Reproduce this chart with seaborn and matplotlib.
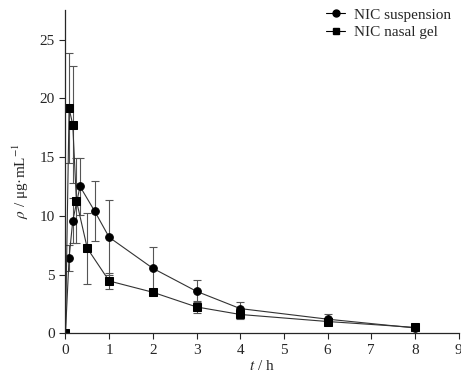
import numpy as np
import pandas as pd
import matplotlib
matplotlib.use("Agg")
import matplotlib.pyplot as plt
import seaborn as sns

# time points (h)
t_susp = [0, 0.083, 0.167, 0.333, 0.667, 1, 2, 3, 4, 6, 8]
c_susp = [0, 6.43, 9.58, 12.5, 10.4, 8.17, 5.53, 3.57, 2.1, 1.2, 0.45]
sd_susp = [0, 1.1, 1.9, 2.4, 2.55, 3.2, 1.85, 0.95, 0.6, 0.4, 0.15]

t_gel = [0, 0.083, 0.167, 0.25, 0.5, 1, 2, 3, 4, 6, 8]
c_gel = [0, 19.15, 17.75, 11.3, 7.23, 4.45, 3.49, 2.24, 1.6, 1.0, 0.5]
sd_gel = [0, 4.7, 5.0, 3.6, 3.0, 0.65, 0.2, 0.5, 0.4, 0.3, 0.1]

labels = ["NIC suspension", "NIC nasal gel"]

sns.set_style("ticks")
plt.rcParams['font.family'] = ['Liberation Serif', 'DejaVu Serif']
plt.rcParams['mathtext.fontset'] = 'stix'

df = pd.concat([
  pd.DataFrame({'t': t_susp, 'c': c_susp, 'sd': sd_susp, 'group': labels[0]}),
  pd.DataFrame({'t': t_gel, 'c': c_gel, 'sd': sd_gel, 'group': labels[1]}),
])

fig = plt.figure(figsize=(4.61, 3.77), dpi=100)
ax = fig.add_axes([0.142, 0.116, 0.853, 0.857])

# error bars first, line+markers on top
for g in labels:
  sub = df[df['group'] == g]
  ax.errorbar(sub['t'], sub['c'], yerr=sub['sd'], fmt='none', ecolor='#555555',
              elinewidth=0.8, capsize=3, capthick=0.8)

sns.lineplot(data=df, x='t', y='c', style='group', markers={labels[0]: 'o', labels[1]: 's'},
             dashes=False, color='#333333', linewidth=0.8, markersize=5.5,
             markeredgecolor='black', markerfacecolor='black', ax=ax, legend=False)

handles = [plt.Line2D([0], [0], color='black', lw=0.8, marker='o', markersize=5, label=labels[0]),
           plt.Line2D([0], [0], color='black', lw=0.8, marker='s', markersize=5, label=labels[1])]
ax.legend(handles=handles, loc='upper right', frameon=False, fontsize=11,
          handlelength=1.2, handletextpad=0.6, borderaxespad=0.1, labelspacing=0.25,
          bbox_to_anchor=(1.0, 1.03))

ax.set_xlim(0, 9)
ax.set_ylim(0, 27.5)
ax.set_xticks(range(0, 10))
ax.set_yticks(range(0, 26, 5))
ax.tick_params(labelsize=11, length=4, width=0.8, direction='out')
for s in ['left', 'bottom']:
  ax.spines[s].set_linewidth(0.9)
sns.despine(ax=ax)

ax.set_xlabel(r'$t$ / h', fontsize=11, labelpad=2)
ax.set_ylabel(r'$\rho$ / μg·mL$^{-1}$', fontsize=11, labelpad=4)
ax.yaxis.set_label_coords(-0.088, 0.47)

fig.savefig('out.png', dpi=100)
